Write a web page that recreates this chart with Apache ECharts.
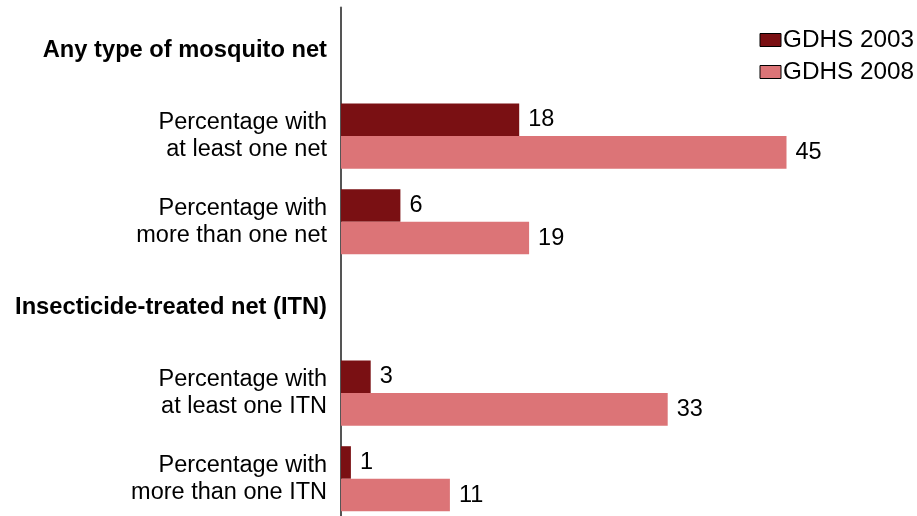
<!DOCTYPE html>
<html>
<head>
<meta charset="utf-8">
<script src="https://cdn.jsdelivr.net/npm/echarts@6/dist/echarts.min.js"></script>
<style>
  html, body { margin: 0; padding: 0; background: #fff; overflow: hidden; }
  /* a bit taller than the window: the bottom row is cut off by the frame, as in the source */
  #chart { width: 917px; height: 530px; }
</style>
</head>
<body>
<div id="chart"></div>
<script>
// rows from top to bottom; header rows have no bars
const categories = [
    'Any type of mosquito net',
    'Percentage with\nat least one net',
    'Percentage with\nmore than one net',
    'Insecticide-treated net (ITN)',
    'Percentage with\nat least one ITN',
    'Percentage with\nmore than one ITN'
];
const headerRows = ['Any type of mosquito net', 'Insecticide-treated net (ITN)'];
const gdhs2003 = [null, 18, 6, null, 3, 1];
const gdhs2008 = [null, 45, 19, null, 33, 11];

const chart = echarts.init(document.getElementById('chart'));

const FONT = 'Liberation Sans, Arial, sans-serif';

const labelStyle = {
    show: true,
    position: 'right',
    distance: 9,
    color: '#000',
    fontSize: 23.5,
    fontFamily: FONT
};

const option = {
    animation: false,
    grid: {
        left: 341,
        right: 81,
        top: 7.6,
        height: 514
    },
    legend: {
        orient: 'vertical',
        right: -2,
        top: 23,
        icon: 'rect',
        itemWidth: 21,
        itemHeight: 13,
        itemGap: 8,
        textStyle: {
            fontSize: 24.3,
            color: '#000',
            fontFamily: FONT,
            padding: [0, 0, 0, -3]
        },
        data: [
            { name: 'GDHS 2003', itemStyle: { borderColor: '#000', borderWidth: 1 } },
            { name: 'GDHS 2008', itemStyle: { borderColor: '#000', borderWidth: 1 } }
        ]
    },
    xAxis: {
        type: 'value',
        min: 0,
        max: 50,
        show: false
    },
    yAxis: {
        type: 'category',
        inverse: true,
        data: categories,
        axisLine: { show: true, lineStyle: { color: '#555', width: 2 } },
        axisTick: { show: false },
        axisLabel: {
            margin: 14,
            color: '#000',
            fontSize: 23.5,
            lineHeight: 27,
            fontFamily: FONT,
            formatter: function (v) {
                return headerRows.indexOf(v) >= 0 ? '{h|' + v + '}' : v;
            },
            rich: {
                h: {
                    fontWeight: 'bold',
                    fontSize: 23.7,
                    color: '#000',
                    fontFamily: FONT
                }
            }
        }
    },
    series: [
        {
            name: 'GDHS 2003',
            type: 'bar',
            data: gdhs2003,
            barGap: 0,
            barCategoryGap: '24%',
            itemStyle: { color: '#7A1013' },
            label: labelStyle
        },
        {
            name: 'GDHS 2008',
            type: 'bar',
            data: gdhs2008,
            itemStyle: { color: '#DC7477' },
            label: labelStyle
        }
    ]
};

chart.setOption(option);
</script>
</body>
</html>
